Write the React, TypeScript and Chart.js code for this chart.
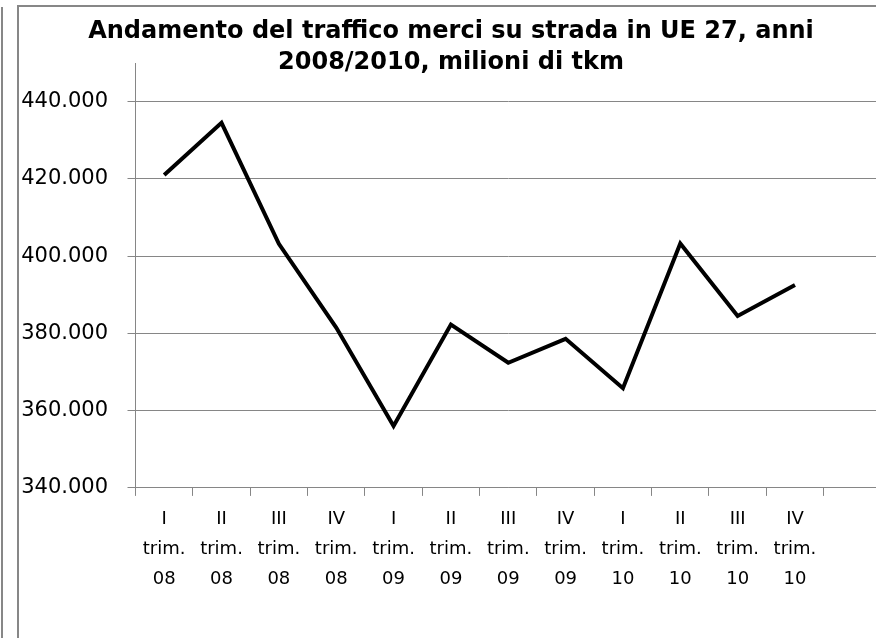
import React, { useEffect, useRef } from 'react';
import { Chart, registerables } from 'chart.js';

Chart.register(...registerables);

const titleLines: string[] = [
  'Andamento del traffico merci su strada in UE 27, anni',
  '2008/2010, milioni di tkm',
];

const categories: (string[] | string)[] = [
  ['I', 'trim.', '08'],
  ['II', 'trim.', '08'],
  ['III', 'trim.', '08'],
  ['IV', 'trim.', '08'],
  ['I', 'trim.', '09'],
  ['II', 'trim.', '09'],
  ['III', 'trim.', '09'],
  ['IV', 'trim.', '09'],
  ['I', 'trim.', '10'],
  ['II', 'trim.', '10'],
  ['III', 'trim.', '10'],
  ['IV', 'trim.', '10'],
  '',
];

const traffic: (number | null)[] = [
  421000, 434500, 403200, 381500, 356000, 382300, 372400, 378600, 365800, 403300, 384500, 392500, null,
];

const yTicks: number[] = [340000, 360000, 380000, 400000, 420000, 440000];
const yMin = 340000;
const yMax = 450000;

const fmt = (v: number | string) =>
  String(Math.round(Number(v))).replace(/\B(?=(\d{3})+(?!\d))/g, '.');

const GRID = '#868686';
const FONT = 'DejaVu Sans';

export default function App() {
  const canvasRef = useRef<HTMLCanvasElement | null>(null);

  useEffect(() => {
    const canvas = canvasRef.current;
    if (!canvas) return;
    const chart = new Chart(canvas, {
      type: 'line',
      data: {
        labels: categories as any,
        datasets: [
          {
            data: traffic,
            borderColor: '#000000',
            borderWidth: 4,
            pointRadius: 0,
            tension: 0,
            fill: false,
            borderJoinStyle: 'miter',
          },
        ],
      },
      options: {
        responsive: false,
        animation: false,
        devicePixelRatio: 1,
        layout: { padding: { left: 2, right: 6, top: 0, bottom: 35 } },
        plugins: {
          legend: { display: false },
          tooltip: { enabled: false },
          title: {
            display: true,
            text: titleLines,
            color: '#000000',
            font: { family: FONT, size: 24, weight: 'bold', lineHeight: 31 / 24 },
            padding: { top: 9.5, bottom: -15.5 },
          },
        },
        scales: {
          x: {
            type: 'category',
            offset: true,
            grid: {
              offset: true,
              drawOnChartArea: false,
              drawTicks: true,
              tickLength: 8,
              color: GRID,
            },
            border: { color: GRID, width: 1 },
            ticks: {
              color: '#000000',
              font: { family: FONT, size: 18, lineHeight: 1.65 },
              padding: 9,
              maxRotation: 0,
              minRotation: 0,
              autoSkip: false,
            },
          },
          y: {
            type: 'linear',
            min: yMin,
            max: yMax,
            afterBuildTicks: (scale: any) => {
              scale.ticks = yTicks.map((v) => ({ value: v }));
            },
            afterFit: (scale: any) => {
              scale.width = 114.5;
            },
            grid: { color: GRID, tickLength: 8, drawTicks: true },
            border: { color: GRID, width: 1 },
            ticks: {
              color: '#000000',
              font: { family: FONT, size: 21 },
              padding: 19.5,
              callback: (v: any) => fmt(v),
            },
          },
        },
      },
    });
    return () => chart.destroy();
  }, []);

  return (
    <div
      style={{
        position: 'fixed',
        left: 0,
        top: 0,
        width: 876,
        height: 638,
        overflow: 'hidden',
        background: '#ffffff',
      }}
    >
      <div
        style={{
          position: 'absolute',
          left: 1,
          top: 7,
          width: 2,
          height: 700,
          background: '#878787',
        }}
      />
      <div
        style={{
          position: 'absolute',
          left: 17,
          top: 5,
          width: 868,
          height: 700,
          border: '2px solid #878787',
          background: '#ffffff',
        }}
      >
        <canvas
          ref={canvasRef}
          width={868}
          height={631}
          style={{ display: 'block', width: 868, height: 631 }}
        />
      </div>
    </div>
  );
}
